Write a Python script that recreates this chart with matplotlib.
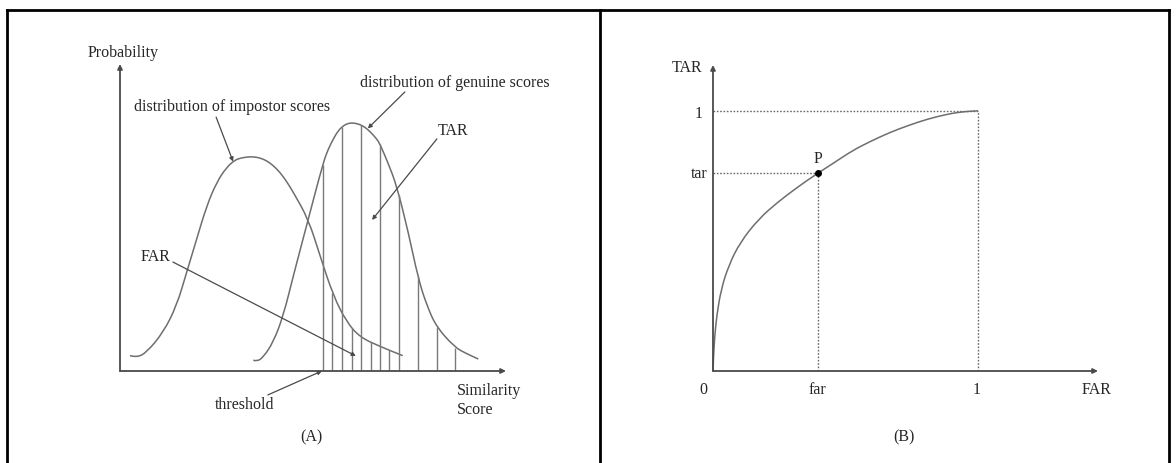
import numpy as np
import matplotlib.pyplot as plt
from matplotlib.lines import Line2D
from matplotlib.path import Path
from matplotlib.patches import PathPatch

plt.rcParams['font.family'] = ['Liberation Serif', 'DejaVu Serif']

# --- panel A: score distributions (similarity score, probability) ---
impostor_x = [0.259, 0.440, 0.692, 1.122, 1.469, 1.728, 1.987, 2.246, 2.505, 2.764,
              2.979, 3.109, 3.282, 3.453, 3.627, 3.800, 3.972, 4.145, 4.319, 4.490,
              4.878, 5.181, 5.526, 5.873, 6.218, 6.736, 7.324]
impostor_y = [0.050, 0.044, 0.061, 0.126, 0.213, 0.322, 0.430, 0.538, 0.615, 0.664,
              0.687, 0.693, 0.697, 0.698, 0.694, 0.685, 0.669, 0.647, 0.617, 0.582,
              0.495, 0.376, 0.245, 0.159, 0.110, 0.080, 0.050]

genuine_x = [3.453, 3.549, 3.712, 3.972, 4.231, 4.490, 4.878, 5.267, 5.396, 5.526,
             5.655, 5.785, 5.915, 6.044, 6.199, 6.347, 6.477, 6.650, 6.736, 6.943,
             7.168, 7.469, 7.728, 7.953, 8.205, 8.679, 8.938, 9.282]
genuine_y = [0.035, 0.031, 0.045, 0.094, 0.180, 0.310, 0.495, 0.680, 0.723, 0.756,
             0.783, 0.799, 0.807, 0.808, 0.804, 0.794, 0.780, 0.756, 0.739, 0.678,
             0.604, 0.452, 0.300, 0.212, 0.142, 0.077, 0.059, 0.039]

threshold = 5.25
tar_hatch = [5.25, 5.74, 6.24, 6.74, 7.23, 7.71, 8.20, 8.69]
far_hatch = [5.50, 6.00, 6.49, 6.98]

# --- panel B: ROC curve ---
roc_far = [0.0, 0.0015, 0.0057, 0.014, 0.031, 0.059, 0.102, 0.172, 0.243, 0.321,
           0.395, 0.455, 0.526, 0.597, 0.668, 0.738, 0.809, 0.880, 0.937, 1.0]
roc_tar = [0.0, 0.046, 0.123, 0.213, 0.315, 0.405, 0.494, 0.584, 0.648, 0.708,
           0.760, 0.799, 0.847, 0.884, 0.917, 0.944, 0.968, 0.986, 0.996, 1.0]
p_far, p_tar = 0.395, 0.760

W, H = 1176, 464
fig = plt.figure(figsize=(W / 100, H / 100), dpi=100)

curve_c = '#6e6e6e'
axis_c = '#4a4a4a'
text_c = '#262626'
fs = 11.5


def px_axes(x0, y0, x1, y1):
    # x0,y0 = origin pixel, x1,y1 = far corner pixel (image coords, y down)
    return fig.add_axes([x0 / W, 1 - y0 / H, (x1 - x0) / W, (y0 - y1) / H])


def arrow(ax, start, end, lw=1.0, color=axis_c, ms=7):
    ax.annotate('', xy=end, xytext=start, annotation_clip=False,
                arrowprops=dict(arrowstyle='-|>', color=color, lw=lw,
                                mutation_scale=ms, shrinkA=0, shrinkB=0))


def smooth_curve(ax, xs, ys, **kw):
    # quadratic bezier through the midpoints, the points act as control points
    verts = [(xs[0], ys[0])]
    codes = [Path.MOVETO]
    for i in range(1, len(xs) - 1):
        verts += [(xs[i], ys[i]), ((xs[i] + xs[i + 1]) / 2, (ys[i] + ys[i + 1]) / 2)]
        codes += [Path.CURVE3, Path.CURVE3]
    verts.append((xs[-1], ys[-1]))
    codes.append(Path.LINETO)
    ax.add_patch(PathPatch(Path(verts, codes), fill=False, clip_on=False, **kw))


# frame lines
for xs, ys in [([7 / W, 1169 / W], [1 - 11 / H] * 2),
               ([7 / W] * 2, [0, 1 - 11 / H]),
               ([600 / W] * 2, [0, 1 - 11 / H]),
               ([1169 / W] * 2, [0, 1 - 11 / H])]:
    fig.add_artist(Line2D(xs, ys, color='black', lw=2))

# ---------------- panel A ----------------
axA = px_axes(120, 372, 506, 65)
axA.set_xlim(0, 10)
axA.set_ylim(0, 1)
axA.axis('off')

arrow(axA, (0, 0), (10, 0), lw=1.3)
arrow(axA, (0, 0), (0, 1), lw=1.3)

smooth_curve(axA, impostor_x, impostor_y, edgecolor=curve_c, lw=1.1)
smooth_curve(axA, genuine_x, genuine_y, edgecolor=curve_c, lw=1.1)

axA.vlines(tar_hatch, 0, np.interp(tar_hatch, genuine_x, genuine_y),
           color='#7a7a7a', lw=1.0)
axA.vlines(far_hatch, 0, np.interp(far_hatch, impostor_x, impostor_y),
           color='#7a7a7a', lw=1.0)

axA.text(0.08, 1.039, 'Probability', ha='center', va='center', fontsize=fs, color=text_c)
axA.text(2.90, 0.863, 'distribution of impostor scores', ha='center', va='center',
         fontsize=fs, color=text_c)
arrow(axA, (2.49, 0.827), (2.93, 0.682), lw=0.9, ms=6)
axA.text(8.68, 0.941, 'distribution of genuine scores', ha='center', va='center',
         fontsize=fs, color=text_c)
arrow(axA, (7.38, 0.909), (6.42, 0.790), lw=0.9, ms=6)
axA.text(8.63, 0.785, 'TAR', ha='center', va='center', fontsize=fs, color=text_c)
arrow(axA, (8.21, 0.756), (6.53, 0.492), lw=0.9, ms=6)
axA.text(0.93, 0.375, 'FAR', ha='center', va='center', fontsize=fs, color=text_c)
arrow(axA, (1.37, 0.355), (6.11, 0.049), lw=0.9, ms=6)
axA.text(3.24, -0.107, 'threshold', ha='center', va='center', fontsize=fs, color=text_c)
arrow(axA, (3.83, -0.078), (threshold - 0.02, 0), lw=0.9, ms=6)
axA.text(8.73, -0.062, 'Similarity', ha='left', va='center', fontsize=fs, color=text_c)
axA.text(8.73, -0.124, 'Score', ha='left', va='center', fontsize=fs, color=text_c)
axA.text(4.97, -0.212, '(A)', ha='center', va='center', fontsize=fs, color=text_c)

# ---------------- panel B ----------------
axB = px_axes(713, 372, 1098, 66)
axB.set_xlim(0, 1.453)
axB.set_ylim(0, 1.176)
axB.axis('off')

arrow(axB, (0, 0), (1.453, 0), lw=1.3)
arrow(axB, (0, 0), (0, 1.176), lw=1.3)

dot_kw = dict(color='#6a6a6a', lw=1.0, ls=(0, (1.2, 1.2)))
axB.plot([0, 1], [1, 1], **dot_kw)
axB.plot([1, 1], [0, 1], **dot_kw)
axB.plot([0, p_far], [p_tar, p_tar], **dot_kw)
axB.plot([p_far, p_far], [0, p_tar], **dot_kw)

smooth_curve(axB, roc_far, roc_tar, edgecolor=curve_c, lw=1.1)
axB.plot([p_far], [p_tar], 'o', color='black', ms=4, clip_on=False)
axB.text(p_far, p_tar + 0.058, 'P', ha='center', va='center', fontsize=fs, color=text_c)

axB.text(-0.098, 1.168, 'TAR', ha='center', va='center', fontsize=fs, color=text_c)
axB.text(-0.053, 0.99, '1', ha='center', va='center', fontsize=fs, color=text_c)
axB.text(-0.053, p_tar, 'tar', ha='center', va='center', fontsize=fs, color=text_c)
axB.text(-0.035, -0.069, '0', ha='center', va='center', fontsize=fs, color=text_c)
axB.text(p_far, -0.069, 'far', ha='center', va='center', fontsize=fs, color=text_c)
axB.text(0.996, -0.069, '1', ha='center', va='center', fontsize=fs, color=text_c)
axB.text(1.449, -0.069, 'FAR', ha='center', va='center', fontsize=fs, color=text_c)
axB.text(0.72, -0.25, '(B)', ha='center', va='center', fontsize=fs, color=text_c)

fig.savefig('out.png', dpi=100)
